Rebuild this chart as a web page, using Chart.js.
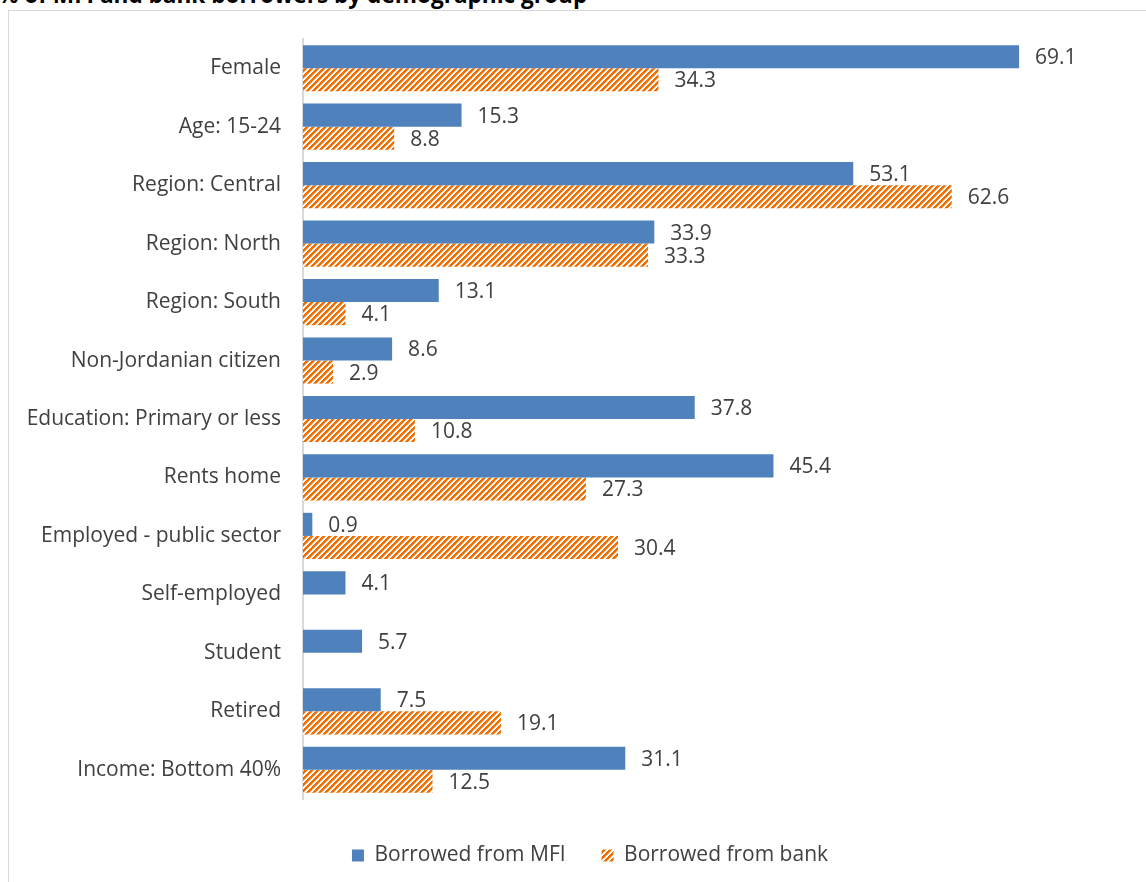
<!DOCTYPE html>
<html>
<head>
<meta charset="utf-8">
<script src="https://cdn.jsdelivr.net/npm/chart.js@4.4.1/dist/chart.umd.min.js"></script>
<style>
  html, body { margin: 0; padding: 0; background: #fff; overflow: hidden; }
  body { width: 1146px; height: 882px; position: relative; font-family: "Open Sans", sans-serif; }
  #title { position: absolute; left: -2px; top: -16px; font-size: 22.6px; font-weight: bold; line-height: 1; color: #000; white-space: nowrap; }
  #frame { position: absolute; left: 8px; top: 10px; width: 1200px; height: 900px; border: 1px solid #d9d9d9; box-sizing: border-box; }
  #wrap { position: absolute; left: 0; top: 0; width: 1180px; height: 882px; }
</style>
</head>
<body>
<div id="title">% of MFI and bank borrowers by demographic group</div>
<div id="frame"></div>
<div id="wrap"><canvas id="myChart" width="1180" height="882"></canvas></div>
<script>
// categories and values
const categories = [
    'Female', 'Age: 15-24', 'Region: Central', 'Region: North', 'Region: South',
    'Non-Jordanian citizen', 'Education: Primary or less', 'Rents home',
    'Employed - public sector', 'Self-employed', 'Student', 'Retired', 'Income: Bottom 40%'
];
const mfiValues = [69.1, 15.3, 53.1, 33.9, 13.1, 8.6, 37.8, 45.4, 0.9, 4.1, 5.7, 7.5, 31.1];
const bankValues = [34.3, 8.8, 62.6, 33.3, 4.1, 2.9, 10.8, 27.3, 30.4, null, null, 19.1, 12.5];

// hatch pattern for the bank series (wide upward diagonal), drawn pixel by pixel
function makeHatch() {
    const c = document.createElement('canvas');
    c.width = 6; c.height = 6;
    const g = c.getContext('2d');
    const shades = ['#ec6f00', '#ec6f00', '#ec6f00', '#f6b888', '#ffffff', '#ffffff'];
    for (let x = 0; x < 6; x++) {
        for (let y = 0; y < 6; y++) {
            g.fillStyle = shades[(x + y) % 6];
            g.fillRect(x, y, 1, 1);
        }
    }
    return g.createPattern(c, 'repeat');
}

// value labels at the end of each bar
const valueLabels = {
    id: 'valueLabels',
    afterDatasetsDraw(chart) {
        const ctx = chart.ctx;
        ctx.save();
        ctx.font = '21px "Open Sans"';
        ctx.fillStyle = '#404040';
        ctx.textBaseline = 'middle';
        ctx.textAlign = 'left';
        chart.data.datasets.forEach((ds, i) => {
            chart.getDatasetMeta(i).data.forEach((bar, j) => {
                const v = ds.data[j];
                if (v === null) return;
                ctx.fillText(v.toFixed(1), bar.x + 16, bar.y + 1.5);
            });
        });
        ctx.restore();
    }
};

const ctx = document.getElementById('myChart').getContext('2d');
const myChart = new Chart(ctx, {
    type: 'bar',
    data: {
        labels: categories,
        datasets: [{
            label: 'Borrowed from MFI',
            data: mfiValues,
            backgroundColor: '#4f81bd',
            borderWidth: 0,
            categoryPercentage: 0.79,
            barPercentage: 1.0
        }, {
            label: 'Borrowed from bank',
            data: bankValues,
            backgroundColor: makeHatch(),
            borderWidth: 0,
            categoryPercentage: 0.79,
            barPercentage: 1.0
        }]
    },
    options: {
        indexAxis: 'y',
        responsive: false,
        animation: false,
        layout: { padding: { left: 20, right: 20, top: 39, bottom: 6 } },
        scales: {
            x: {
                min: 0, max: 82.7,
                grid: { display: false, drawTicks: false },
                border: { display: false },
                ticks: { display: false },
                afterFit(scale) { scale.height = 10; }
            },
            y: {
                grid: { display: false, drawTicks: false },
                border: { display: true, color: '#d9d9d9', width: 2 },
                ticks: {
                    color: '#404040',
                    font: { family: 'Open Sans', size: 21 },
                    padding: 22
                },
                afterFit(scale) { scale.width = 283; }
            }
        },
        plugins: {
            legend: {
                position: 'bottom',
                labels: {
                    color: '#404040',
                    font: { family: 'Open Sans', size: 21 },
                    boxWidth: 12,
                    boxHeight: 12,
                    padding: 36
                }
            },
            tooltip: { enabled: false }
        }
    },
    plugins: [valueLabels]
});
</script>
</body>
</html>
